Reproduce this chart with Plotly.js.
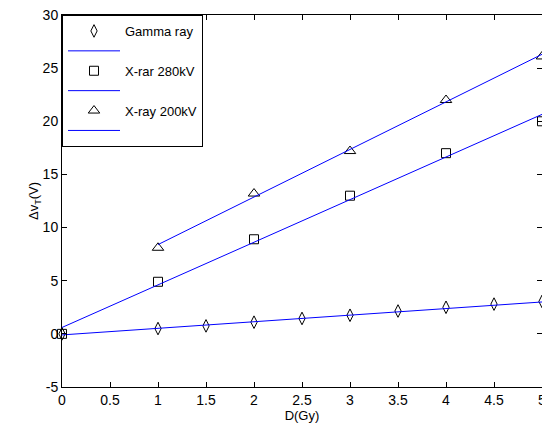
<!DOCTYPE html>
<html>
<head>
<meta charset="utf-8">
<script src="https://cdn.plot.ly/plotly-3.0.1.min.js"></script>
<style>
html,body{margin:0;padding:0;overflow:hidden;background:#fff;}
#chart{width:542px;height:428px;}
</style>
</head>
<body>
<div id="chart"></div>
<script>
// Measured points
var gammaX = [0, 1, 1.5, 2, 2.5, 3, 3.5, 4, 4.5, 5];
var gammaY = [0, 0.5, 0.75, 1.1, 1.45, 1.75, 2.15, 2.5, 2.8, 3.05];
var xr280X = [0, 1, 2, 3, 4, 5];
var xr280Y = [0, 4.9, 8.9, 13.0, 17.0, 20.0];
var xr200X = [1, 2, 3, 4, 5];
var xr200Y = [8.1, 13.2, 17.2, 22.0, 26.1];
// Fitted lines (end points)
var gammaFitX = [0, 5];
var gammaFitY = [-0.1, 3.0];
var xr280FitX = [0, 5];
var xr280FitY = [0.6, 20.65];
var xr200FitX = [1, 5];
var xr200FitY = [8.4, 26.3];
var names = ['Gamma ray', 'X-rar 280kV', 'X-ray 200kV'];
var xTicks = [0, 0.5, 1, 1.5, 2, 2.5, 3, 3.5, 4, 4.5, 5];
var yTicks = [-5, 0, 5, 10, 15, 20, 25, 30];

var blue = 'rgb(0,0,255)';
function pts(x, y, name, sym, size) {
  return {x: x, y: y, name: name, type: 'scatter', mode: 'markers',
    marker: {symbol: sym, size: size, color: 'black', line: {color: 'black', width: 1}},
    cliponaxis: false};
}
function fit(x, y) {
  return {x: x, y: y, name: ' ', type: 'scatter', mode: 'lines',
    line: {color: blue, width: 1}};
}
var data = [
  pts(gammaX, gammaY, names[0], 'diamond-tall-open', 9),
  fit(gammaFitX, gammaFitY),
  pts(xr280X, xr280Y, names[1], 'square-open', 9),
  fit(xr280FitX, xr280FitY),
  pts(xr200X, xr200Y, names[2], 'triangle-up-open', 10),
  fit(xr200FitX, xr200FitY)
];
var font = {family: 'Liberation Sans, Arial, sans-serif', size: 14, color: 'black'};
var small = {family: font.family, size: 13, color: 'black'};
var layout = {
  width: 542, height: 428,
  margin: {l: 62, r: 0, t: 15, b: 41},
  paper_bgcolor: 'white', plot_bgcolor: 'white',
  font: font,
  showlegend: true,
  legend: {x: 0, y: 1, xanchor: 'left', yanchor: 'top', bgcolor: 'white',
    bordercolor: 'black', borderwidth: 1, font: {family: font.family, size: 13, color: 'black'},
    tracegroupgap: 0, itemwidth: 52, traceorder: 'normal'},
  xaxis: {range: [0, 5], tickvals: xTicks, ticktext: xTicks.map(String),
    ticklabeloverflow: 'allow',
    ticks: 'inside', ticklen: 5, tickcolor: 'black', showline: true, linecolor: 'black',
    linewidth: 1, mirror: 'ticks', showgrid: false, zeroline: false,
    title: {text: 'D(Gy)', font: small, standoff: 4}},
  yaxis: {range: [-5, 30], tickvals: yTicks, ticktext: yTicks.map(String),
    ticklabeloverflow: 'allow',
    ticks: 'inside', ticklen: 5, tickcolor: 'black', showline: true, linecolor: 'black',
    linewidth: 1, mirror: 'ticks', showgrid: false, zeroline: false,
    title: {text: 'Δv<sub>T</sub>(V)', font: small, standoff: 0}}
};
Plotly.newPlot('chart', data, layout, {displayModeBar: false, staticPlot: true});
</script>
</body>
</html>
